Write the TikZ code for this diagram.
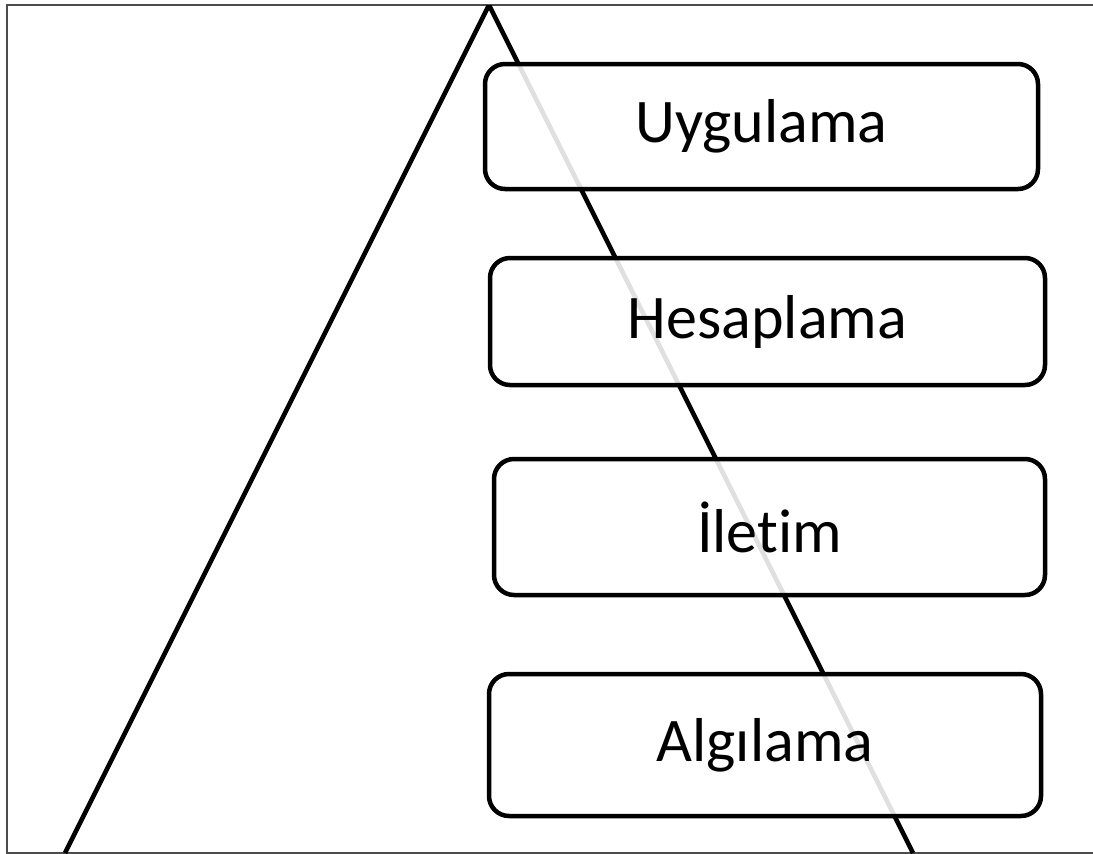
\documentclass[tikz,border=0pt]{standalone}
\usepackage{fontspec}
\setmainfont{Carlito}[RawFeature={-liga;-clig}]
\begin{document}
\begin{tikzpicture}[x=1pt,y=-1pt,
  layer/.style={draw=black,line width=4.5pt,rounded corners=20pt,fill=white,fill opacity=0.88,text opacity=1,draw opacity=1,font=\fontsize{62}{70}\selectfont,inner sep=0pt,anchor=center},
  frameline/.style={draw=black!70,line width=1.5pt},
  side/.style={line width=4.5pt,draw=black}]
\useasboundingbox (0,0) rectangle (1093,854);
\draw[frameline] (1093,5) -- (7,5) -- (7,853) -- (1093,853);
\coordinate (bl) at (65,853);
\coordinate (apex) at (489,5);
\coordinate (br) at (913,853);
\begin{scope}
\clip (7,5) rectangle (1093,853);
\draw[side,line join=miter] (bl) -- (apex) -- (br);
\end{scope}
\node[layer,minimum width=553pt,minimum height=125pt] (uyg) at (761.5,126.5) {Uygulama};
\node[layer,minimum width=555pt,minimum height=127pt] (hes) at (767.5,321.5) {Hesaplama};
\node[layer,minimum width=551pt,minimum height=136pt] (ile) at (769.5,527) {İletim};
\node[layer,minimum width=552pt,minimum height=142pt] (alg) at (765,745) {Algılama};
\end{tikzpicture}
\end{document}
